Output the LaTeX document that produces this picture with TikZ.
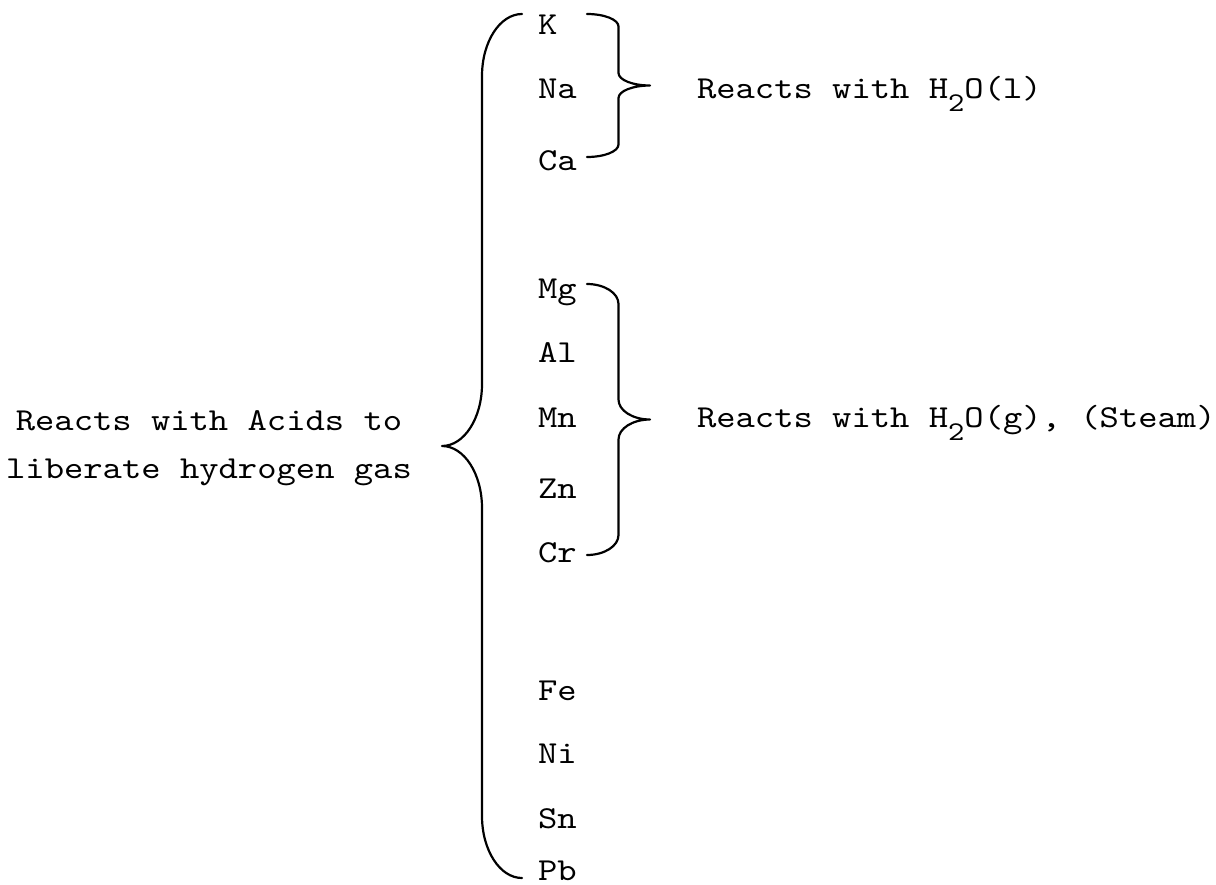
\documentclass[tikz,border=0pt]{standalone}
\usepackage{fontspec}
% typewriter face, widened to a Courier-like pitch
\newfontfamily\typewriter[FakeStretch=1.15]{lmmono10-regular.otf}
\usetikzlibrary{calc}

% lowered, smaller digit for the water formula
\newcommand\subtwo{\raisebox{-13pt}{\fontsize{27}{27}\selectfont 2}}

% curly brace between two end points:
% #1 top end, #2 bottom end, #3 signed half width, #4 height of the end curves
\newcommand\drawbrace[4]{%
  \draw[brace line] let \p1=(#1), \p2=(#2), \n1={#3}, \n2={#4}, \n3={(\y1+\y2)/2} in
    (\p1) .. controls (\x1+0.5523*\n1,\y1) and (\x1+\n1,\y1-0.4477*\n2) .. (\x1+\n1,\y1-\n2)
    -- (\x1+\n1,\n3+\n2)
    .. controls (\x1+\n1,\n3+0.4477*\n2) and (\x1+1.4477*\n1,\n3) .. (\x1+2*\n1,\n3)
    .. controls (\x1+1.4477*\n1,\n3) and (\x1+\n1,\n3-0.4477*\n2) .. (\x1+\n1,\n3-\n2)
    -- (\x1+\n1,\y2+\n2)
    .. controls (\x1+\n1,\y2+0.4477*\n2) and (\x2+0.5523*\n1,\y2) .. (\p2);
}

\begin{document}
\begin{tikzpicture}[x=1pt,y=1pt,
  label text/.style={font=\typewriter\fontsize{32}{48}\selectfont, inner sep=0pt, outer sep=0pt, text=black},
  element/.style={label text, anchor=base west},
  brace line/.style={draw=black, line width=2.2pt, line cap=round, line join=round}]

\useasboundingbox (0,0) rectangle (1216,-884);
\fill[white] (0,0) rectangle (1216,-884);

% metals, most reactive first
\node[element] (K)  at (538,-34)  {K};
\node[element] (Na) at (538,-98)  {Na};
\node[element] (Ca) at (538,-170) {Ca};
\node[element] (Mg) at (538,-298) {Mg};
\node[element] (Al) at (538,-362) {Al};
\node[element] (Mn) at (538,-427) {Mn};
\node[element] (Zn) at (538,-498) {Zn};
\node[element] (Cr) at (538,-562) {Cr};
\node[element] (Fe) at (538,-700) {Fe};
\node[element] (Ni) at (538,-763) {Ni};
\node[element] (Sn) at (538,-828) {Sn};
\node[element] (Pb) at (538,-880) {Pb};

% group descriptions
\node[label text, anchor=base west] (water) at (697,-98) {Reacts with H\subtwo O(l)};
\node[label text, anchor=base west] (steam) at (697,-427) {Reacts with H\subtwo O(g), (Steam)};
\node[label text, align=center, anchor=base] (acids) at (209,-478) {Reacts with Acids to\\liberate hydrogen gas};

% brace ends
\coordinate (bigTop) at (522,-14);
\coordinate (bigBot) at (522,-878);
\coordinate (liqTop) at (587,-14);
\coordinate (liqBot) at (587,-157);
\coordinate (gasTop) at (587,-284);
\coordinate (gasBot) at (587,-555);

\drawbrace{bigTop}{bigBot}{-40}{62}
\drawbrace{liqTop}{liqBot}{31.5}{12.5}
\drawbrace{gasTop}{gasBot}{31.5}{20}

\end{tikzpicture}
\end{document}
